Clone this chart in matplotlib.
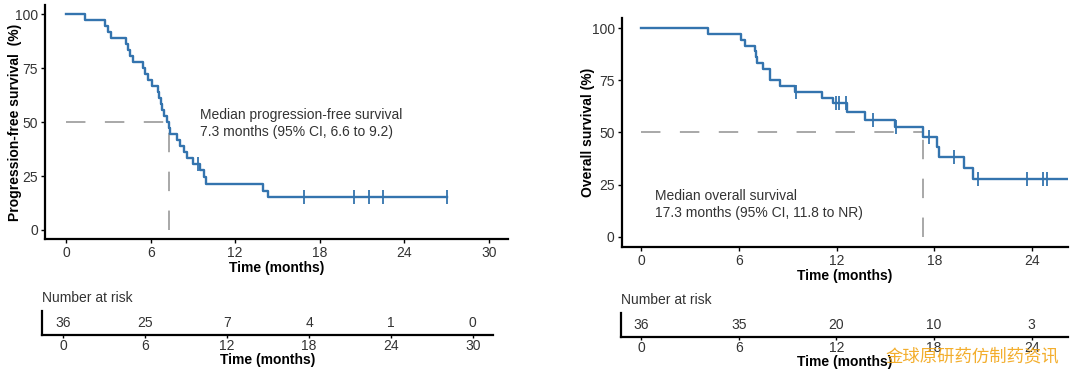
import matplotlib.pyplot as plt
import numpy as np

plt.rcParams['font.family'] = ['Liberation Sans', 'DejaVu Sans']
plt.rcParams['lines.scale_dashes'] = False

# progression-free survival (left)
pfs_time = [0, 1.35, 2.78, 3.0, 3.2, 4.25, 4.4, 4.55, 4.75, 5.43, 5.6, 5.8, 6.13, 6.5,
            6.6, 6.7, 6.8, 6.95, 7.13, 7.3, 7.35, 7.9, 8.1, 8.35, 8.55, 9.0, 9.5, 9.75,
            9.95, 13.96, 14.3, 27.05]
pfs_surv = [100, 97.2, 94.4, 91.7, 88.9, 86.1, 83.3, 80.6, 77.8, 75.0, 72.2, 69.4, 66.7, 63.9,
            61.1, 58.3, 55.6, 52.8, 50.0, 47.2, 44.4, 41.7, 38.9, 36.1, 33.3, 30.6, 27.8, 24.5,
            21.3, 18.3, 15.4, 15.4]
pfs_cens_t = [9.35, 16.9, 20.4, 21.5, 22.5, 27.05]
pfs_cens_s = [30.6, 15.4, 15.4, 15.4, 15.4, 15.4]
pfs_median = 7.3
pfs_risk_t = [0, 6, 12, 18, 24, 30]
pfs_risk_n = [36, 25, 7, 4, 1, 0]

# overall survival (right)
os_time = [0, 4.13, 6.13, 6.38, 6.99, 7.05, 7.1, 7.5, 7.9, 8.53, 9.45, 11.09, 11.8, 12.62,
           13.74, 15.58, 17.28, 18.14, 18.28, 19.8, 20.35, 26.2]
os_surv = [100, 97.2, 94.4, 91.7, 88.9, 86.1, 83.3, 80.6, 75.0, 72.2, 69.4, 66.5, 63.9, 60.0,
           56.2, 52.5, 48.0, 43.2, 38.4, 32.8, 27.5, 27.5]
os_cens_t = [9.5, 11.95, 12.15, 12.6, 14.25, 15.64, 17.69, 19.2, 20.7, 23.66, 24.64, 24.89]
os_cens_s = [69.4, 63.9, 63.9, 63.9, 56.2, 52.5, 48.0, 38.4, 27.5, 27.5, 27.5, 27.5]
os_median = 17.3
os_risk_t = [0, 6, 12, 18, 24]
os_risk_n = [36, 35, 20, 10, 3]

blue = '#3474ae'
grey = '#9a9a9a'
tick_col = '#333333'
fs = 10

fig = plt.figure(figsize=(10.8, 3.74), dpi=100)


def km_panel(rect, t, s, ct, cs, med, xlim, ylim, xticks, ylabel, lab_x):
    ax = fig.add_axes(rect)
    ax.plot([0, med], [50, 50], color=grey, lw=1.2, ls=(0, (14, 14)))
    ax.plot([med, med], [0, 50], color=grey, lw=1.2, ls=(0, (14, 14)))
    ax.step(t, s, where='post', color=blue, lw=1.7)
    ax.plot(ct, cs, ls='none', marker='|', ms=10, mew=1.3, color=blue)
    ax.set_xlim(xlim)
    ax.set_ylim(ylim)
    ax.set_xticks(xticks)
    ax.set_yticks([0, 25, 50, 75, 100])
    for side in ['top', 'right']:
        ax.spines[side].set_visible(False)
    for side in ['left', 'bottom']:
        ax.spines[side].set_linewidth(1.6)
    ax.tick_params(labelsize=fs, labelcolor=tick_col, length=3, width=1, pad=2)
    ax.set_xlabel('Time (months)', fontsize=fs, fontweight='bold', labelpad=1)
    ax.set_ylabel(ylabel, fontsize=fs, fontweight='bold', va='center')
    ax.yaxis.set_label_coords(lab_x, 0.5)
    return ax


def risk_panel(rect, xlim, rt, rn, xticks, lx):
    ax = fig.add_axes(rect)
    ax.set_xlim(xlim)
    ax.set_ylim(0, 1)
    for x, n in zip(rt, rn):
        ax.text(x, 0.5, str(n), ha='center', va='center', fontsize=fs, color=tick_col)
    ax.set_xticks(xticks)
    ax.set_yticks([])
    for side in ['top', 'right']:
        ax.spines[side].set_visible(False)
    for side in ['left', 'bottom']:
        ax.spines[side].set_linewidth(1.6)
    ax.tick_params(labelsize=fs, labelcolor=tick_col, length=2, width=1, pad=1)
    ax.set_xlabel('Time (months)', fontsize=fs, fontweight='bold', labelpad=0)
    ax.text(lx, 1.55, 'Number at risk', transform=ax.transAxes, fontsize=fs,
            color=tick_col, va='center')
    return ax


ax1 = km_panel([0.0417, 0.361, 0.4287, 0.6256], pfs_time, pfs_surv, pfs_cens_t, pfs_cens_s,
               pfs_median, (-1.49, 31.35), (-4.17, 104.3), [0, 6, 12, 18, 24, 30],
               'Progression-free survival  (%)', -0.065)
ax1.text(9.5, 49.5, 'Median progression-free survival\n7.3 months (95% CI, 6.6 to 9.2)',
         fontsize=fs, color=tick_col, va='center', linespacing=1.25)

ax2 = km_panel([0.5756, 0.3404, 0.4133, 0.6115], os_time, os_surv, os_cens_t, os_cens_s,
               os_median, (-1.18, 26.2), (-4.8, 104.9), [0, 6, 12, 18, 24],
               'Overall survival (%)', -0.075)
ax2.text(0.86, 15.6, 'Median overall survival\n17.3 months (95% CI, 11.8 to NR)',
         fontsize=fs, color=tick_col, va='center', linespacing=1.25)

risk_panel([0.0392, 0.1043, 0.417, 0.0641], (-1.54, 31.46), pfs_risk_t, pfs_risk_n,
           [0, 6, 12, 18, 24, 30], 0.0)
risk_panel([0.5747, 0.0981, 0.4142, 0.065], (-1.25, 26.23), os_risk_t, os_risk_n,
           [0, 6, 12, 18, 24], 0.0)

fig.text(0.9, 0.046, '金球原研药仿制药资讯', fontsize=12.5, color='#f2a516', ha='center',
         va='center', family=['Noto Sans CJK SC', 'DejaVu Sans'], alpha=0.9)

plt.savefig('out.png', dpi=100)
